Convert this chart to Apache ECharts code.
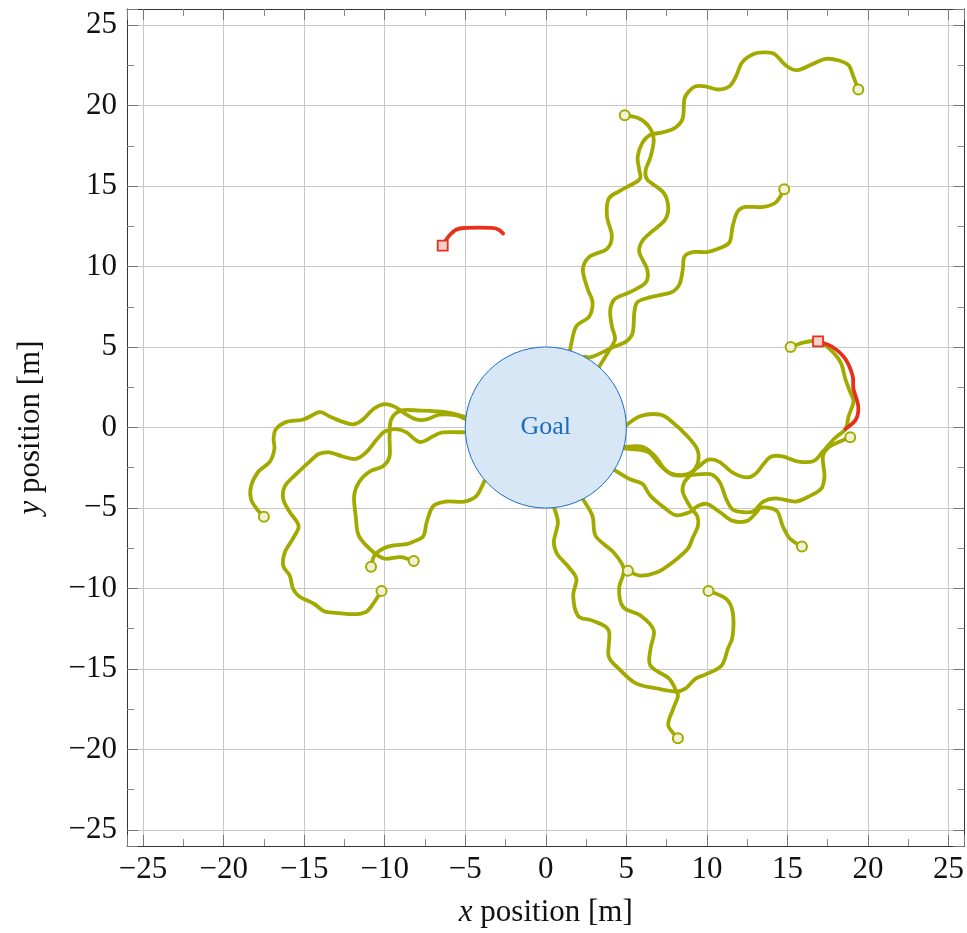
<!DOCTYPE html>
<html>
<head>
<meta charset="utf-8">
<style>
  html, body { margin: 0; padding: 0; background: #fff; }
  #chart { width: 967px; height: 933px; }
</style>
<script src="https://cdn.jsdelivr.net/npm/echarts@6/dist/echarts.min.js"></script>
</head>
<body>
<div id="chart"></div>
<script>
// trajectories, [x, y] in metres, first point = start
const pathA = [[19.4,21.0],[19.1,21.8],[18.8,22.5],[18.2,22.8],[17.4,22.9],[16.6,22.6],[15.6,22.2],[14.9,22.5],[14.2,23.2],[13.5,23.3],[12.9,23.2],[12.2,22.7],[11.8,21.8],[11.4,21.2],[10.7,21.0],[9.9,21.2],[9.3,21.2],[8.9,20.9],[8.6,20.4],[8.5,19.2],[8.0,18.6],[7.1,18.3],[6.5,18.2],[6.0,17.7],[5.7,16.8],[5.8,16.0],[5.8,15.4],[4.6,14.7],[3.9,14.2],[3.8,13.1],[4.1,11.9],[3.8,11.1],[2.7,10.6],[2.3,9.8],[2.6,8.6],[2.9,7.8],[2.7,6.9],[1.9,6.3],[1.6,5.3],[1.5,4.75]];
const pathB = [[4.9,19.4],[5.8,19.2],[6.4,18.7],[6.7,17.9],[6.5,16.8],[6.2,16.0],[6.3,15.4],[7.3,14.6],[7.6,13.7],[7.4,12.9],[6.5,12.1],[6.0,11.6],[5.8,10.9],[6.3,9.8],[6.2,9.0],[5.2,8.4],[4.3,8.0],[4.0,7.3],[4.1,6.3],[4.3,5.5],[4.0,4.9],[3.3,3.75]];
const pathC = [[14.8,14.8],[14.3,14.0],[13.5,13.7],[12.4,13.7],[11.9,13.4],[11.6,12.5],[11.4,11.5],[10.7,11.1],[10.0,10.9],[9.1,10.9],[8.6,10.6],[8.5,9.8],[8.3,8.9],[7.8,8.4],[6.5,8.1],[5.7,7.8],[5.5,7.2],[5.4,5.9],[5.0,5.35],[4.2,5.0],[2.9,4.4],[2.4,4.4]];
const pathD = [[15.2,5.0],[16.1,5.3],[16.9,5.35],[17.6,4.9],[18.3,4.05],[18.6,3.0],[18.9,2.2],[19.1,1.6],[18.8,0.7],[18.6,-0.1],[17.9,-0.7],[17.2,-1.5],[16.6,-2.1],[15.6,-2.1],[14.7,-1.8],[13.9,-1.85],[13.1,-2.8],[12.5,-3.1],[11.6,-2.8],[10.8,-2.15],[10.1,-2.0],[9.4,-2.5],[8.8,-2.9],[7.9,-2.9],[7.3,-2.5],[6.8,-1.8],[6.0,-1.2],[4.85,-1.2]];
const pathE = [[18.9,-0.6],[18.3,-0.85],[17.6,-1.2],[17.2,-1.8],[17.3,-3.0],[17.1,-3.8],[16.3,-4.3],[15.5,-4.6],[14.3,-4.4],[13.5,-4.6],[12.9,-5.2],[12.2,-5.25],[11.6,-5.1],[11.2,-4.45],[10.8,-3.4],[10.2,-2.9],[8.95,-2.95],[7.9,-2.95],[7.1,-2.35],[6.3,-1.5],[4.85,-1.3]];
const pathF = [[15.9,-7.4],[15.15,-6.9],[14.7,-6.1],[14.4,-5.25],[13.9,-5.0],[13.3,-5.0],[13.1,-5.25],[12.5,-5.8],[11.6,-5.8],[10.8,-5.25],[10.0,-4.75],[9.4,-4.9],[8.95,-5.25],[8.1,-5.45],[7.5,-5.1],[6.5,-4.25],[6.0,-3.5],[5.2,-3.2],[4.2,-2.6]];
const pathG = [[10.1,-10.15],[11.2,-10.65],[11.6,-11.45],[11.6,-12.95],[11.3,-13.75],[10.9,-14.8],[9.9,-15.35],[9.3,-15.6],[8.7,-16.2],[8.1,-16.4],[6.85,-16.2],[5.6,-15.9],[4.55,-15.0],[3.9,-14.2],[3.9,-12.6],[2.9,-12.0],[2.0,-11.7],[1.7,-10.45],[1.9,-9.4],[1.4,-8.65],[0.7,-7.85],[0.5,-7.1],[0.75,-5.9],[0.5,-4.95]];
const pathH = [[5.1,-8.9],[5.85,-9.2],[6.9,-9.0],[7.9,-8.35],[8.8,-7.55],[9.1,-6.9],[9.45,-6.1],[9.4,-5.5],[8.95,-4.9],[8.5,-4.0],[8.6,-3.4],[9.1,-2.8],[9.45,-2.15],[9.4,-1.35],[8.8,-0.55],[7.9,0.3],[7.1,0.8],[5.85,0.7],[4.95,0.1]];
const pathI = [[8.2,-19.3],[7.6,-18.5],[7.9,-17.5],[8.2,-16.7],[8.1,-16.4],[7.65,-15.6],[6.5,-14.8],[6.5,-13.75],[6.7,-12.6],[5.9,-11.7],[4.8,-11.15],[4.55,-10.0],[4.85,-8.8],[4.2,-7.75],[3.1,-6.75],[2.9,-5.5],[2.3,-4.45]];
const pathJ = [[-10.2,-10.15],[-10.65,-10.85],[-11.15,-11.45],[-11.95,-11.6],[-13.2,-11.5],[-13.8,-11.4],[-14.4,-10.95],[-15.3,-10.5],[-15.7,-10.0],[-15.9,-9.2],[-16.3,-8.6],[-16.2,-7.75],[-15.7,-6.9],[-15.35,-6.1],[-15.9,-5.25],[-16.3,-4.45],[-16.2,-3.65],[-15.5,-2.9],[-14.7,-2.15],[-14.1,-1.65],[-13.45,-1.55],[-12.6,-1.8],[-11.8,-1.95],[-11.15,-1.55],[-10.5,-0.75],[-10.0,-0.25],[-9.3,-0.1],[-8.65,-0.3],[-7.85,-0.9],[-7.0,-0.55],[-6.4,-0.3],[-4.98,-0.3]];
const pathK = [[-8.2,-8.3],[-9.0,-8.05],[-10.0,-8.15],[-10.7,-7.75],[-11.6,-6.75],[-11.8,-5.5],[-11.9,-4.25],[-11.6,-3.4],[-10.95,-2.75],[-10.1,-2.4],[-9.7,-1.8],[-9.7,-0.55],[-9.6,0.5],[-9.0,1.05],[-7.8,1.05],[-6.25,0.95],[-4.95,0.65]];
const pathL = [[-10.85,-8.65],[-10.6,-7.9],[-9.8,-7.4],[-8.65,-7.25],[-8.25,-7.1],[-7.6,-6.75],[-7.4,-5.9],[-7.0,-4.9],[-6.2,-4.6],[-5.05,-4.6],[-4.3,-4.25],[-3.8,-3.3]];
const pathM = [[-17.5,-5.55],[-17.95,-5.05],[-18.3,-4.45],[-18.3,-3.65],[-17.85,-2.75],[-17.15,-2.15],[-16.85,-1.35],[-16.9,-0.7],[-16.75,-0.1],[-16.1,0.35],[-15.05,0.5],[-14.05,0.95],[-13.45,0.7],[-12.6,0.35],[-11.95,0.2],[-11.35,0.5],[-10.7,1.15],[-10.0,1.45],[-9.3,1.25],[-8.65,0.8],[-8.05,0.5],[-7.4,0.5],[-6.6,0.8],[-5.55,0.75],[-4.95,0.5]];

const redPath1 = [[-6.4,11.3],[-6.05,11.85],[-5.55,12.3],[-4.95,12.4],[-3.4,12.4],[-2.95,12.3],[-2.65,12.05]];
const redPath2 = [[16.9,5.35],[17.8,5.0],[18.6,4.25],[19.05,3.2],[19.1,2.4],[19.4,1.3],[19.25,0.5],[18.6,-0.1]];

const goal = [0, 0, 5]; // centre x, centre y, radius
const axisMin = -26;
const axisMax = 26;

const olivePaths = [pathA, pathB, pathC, pathD, pathE, pathF, pathG, pathH, pathI, pathJ, pathK, pathL, pathM];
const redPaths = [redPath1, redPath2];

const OLIVE = "#a2aa00";
const RED = "#e6321c";
const FONT = "Liberation Serif";
const FS = 31;

const chart = echarts.init(document.getElementById("chart"));

const fmt = (v) => String(v).replace("-", "\u2212");

// draws the whole trajectory as one Catmull-Rom curve through its points
function trajectory(color) {
  return (params, api) => {
    if (params.dataIndexInside !== 0) return null;
    const n = params.dataInsideLength;
    const pts = [];
    for (let i = 0; i < n; i++) {
      pts.push(api.coord([api.value(0, i), api.value(1, i)]));
    }
    let d = "M" + pts[0][0] + " " + pts[0][1];
    for (let i = 0; i < n - 1; i++) {
      const p0 = pts[Math.max(i - 1, 0)];
      const p1 = pts[i];
      const p2 = pts[i + 1];
      const p3 = pts[Math.min(i + 2, n - 1)];
      const c1x = p1[0] + (p2[0] - p0[0]) / 6;
      const c1y = p1[1] + (p2[1] - p0[1]) / 6;
      const c2x = p2[0] - (p3[0] - p1[0]) / 6;
      const c2y = p2[1] - (p3[1] - p1[1]) / 6;
      d += " C" + c1x + " " + c1y + " " + c2x + " " + c2y + " " + p2[0] + " " + p2[1];
    }
    return {
      type: "path",
      shape: { pathData: d },
      style: { fill: "none", stroke: color, lineWidth: 3.8, lineCap: "round", lineJoin: "round" },
    };
  };
}

const baseX = {
  type: "value",
  min: axisMin,
  max: axisMax,
  splitNumber: 10,
  axisLine: { show: true, onZero: false, lineStyle: { color: "#333", width: 1 } },
  axisTick: { show: true, inside: true, length: 11, lineStyle: { color: "#777", width: 1 } },
  minorTick: { show: true, splitNumber: 2, length: 7, lineStyle: { color: "#888", width: 1 } },
};

const titleStyle = {
  fontFamily: FONT,
  fontSize: FS,
  color: "#111",
  rich: { i: { fontFamily: FONT, fontStyle: "italic", fontSize: FS, color: "#111" } },
};

const series = [];
olivePaths.forEach((p) => {
  series.push({ type: "custom", data: p, encode: { x: 0, y: 1 }, renderItem: trajectory(OLIVE), z: 2 });
});
redPaths.forEach((p) => {
  series.push({ type: "custom", data: p, encode: { x: 0, y: 1 }, renderItem: trajectory(RED), z: 4 });
});
// goal area
series.push({
  type: "custom",
  data: [goal],
  encode: { x: 0, y: 1 },
  z: 3,
  renderItem: (params, api) => {
    const c = api.coord([api.value(0), api.value(1)]);
    const r = api.size([api.value(2), 0])[0];
    return {
      type: "group",
      children: [
        { type: "circle", shape: { cx: c[0], cy: c[1], r: r }, style: { fill: "#d7e7f5", stroke: "#1a6ec8", lineWidth: 1 } },
        { type: "text", style: { text: "Goal", x: c[0], y: c[1], align: "center", verticalAlign: "middle", fill: "#1c6bbf", font: '26px "' + FONT + '"' } },
      ],
    };
  },
});
// start markers
series.push({
  type: "scatter",
  data: olivePaths.map((p) => p[0]),
  symbol: "circle",
  symbolSize: 10,
  itemStyle: { color: "#f0f2d6", borderColor: OLIVE, borderWidth: 2, opacity: 1 },
  z: 6,
});
series.push({
  type: "scatter",
  data: redPaths.map((p) => p[0]),
  symbol: "rect",
  symbolSize: 10,
  itemStyle: { color: "#f9d0c9", borderColor: RED, borderWidth: 1.8, opacity: 1 },
  z: 6,
});

chart.setOption({
  animation: false,
  backgroundColor: "#fff",
  grid: { left: 127, top: 9, right: 2, bottom: 86, containLabel: false },
  xAxis: [
    Object.assign({}, baseX, {
      position: "bottom",
      name: "{i|x} position [m]",
      nameLocation: "middle",
      nameGap: 51,
      nameTextStyle: titleStyle,
      axisLabel: { show: true, margin: 8, fontFamily: FONT, fontSize: FS, color: "#111", showMinLabel: false, showMaxLabel: false, formatter: fmt },
      splitLine: { show: true, lineStyle: { color: "#c8c8c8", width: 1 } },
    }),
    Object.assign({}, baseX, {
      position: "top",
      axisLabel: { show: false },
      splitLine: { show: false },
    }),
  ],
  yAxis: [
    Object.assign({}, baseX, {
      position: "left",
      name: "{i|y} position [m]",
      nameLocation: "middle",
      nameGap: 81,
      nameTextStyle: titleStyle,
      axisLabel: { show: true, margin: 10, fontFamily: FONT, fontSize: FS, color: "#111", showMinLabel: false, showMaxLabel: false, formatter: fmt },
      splitLine: { show: true, lineStyle: { color: "#c8c8c8", width: 1 } },
    }),
    Object.assign({}, baseX, {
      position: "right",
      axisLabel: { show: false },
      splitLine: { show: false },
    }),
  ],
  series: series,
});
</script>
</body>
</html>
